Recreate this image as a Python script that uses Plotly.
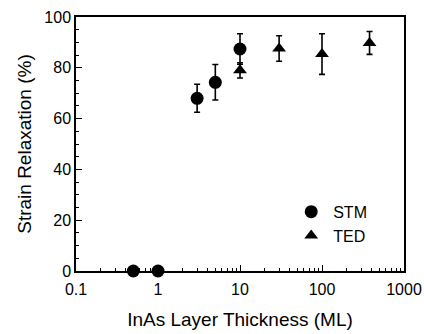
import plotly.graph_objects as go

stm_x = [0.5, 1, 3, 5, 10]
stm_y = [0, 0, 68, 74.3, 87.4]
stm_err = [0, 0, 5.5, 7, 6]

ted_x = [10, 30, 100, 380]
ted_y = [79, 87.6, 85.4, 89.8]
ted_err = [3, 5, 8, 4.5]

x_ticks = [0.1, 1, 10, 100, 1000]
x_tick_labels = ["0.1", "1", "10", "100", "1000"]
x_minor = [m * d for d in [0.1, 1, 10, 100] for m in range(2, 10)]
y_ticks = [0, 20, 40, 60, 80, 100]

font = dict(family="Liberation Sans, Arial, sans-serif", size=16, color="black")

fig = go.Figure()
fig.add_trace(go.Scatter(
    x=stm_x, y=stm_y, mode="markers", name="STM",
    marker=dict(symbol="circle", size=13, color="black"),
    error_y=dict(type="data", array=stm_err, color="black", thickness=1.6, width=3),
    cliponaxis=False,
))
fig.add_trace(go.Scatter(
    x=ted_x, y=ted_y, mode="markers", name="TED",
    marker=dict(symbol="triangle-up", size=12, color="black"),
    error_y=dict(type="data", array=ted_err, color="black", thickness=1.6, width=3),
    cliponaxis=False,
))

fig.update_layout(
    width=424, height=334,
    margin=dict(l=76, r=20, t=17, b=63),
    paper_bgcolor="white", plot_bgcolor="white",
    font=font,
    showlegend=True,
    legend=dict(x=0.65, y=0.3, xanchor="left", yanchor="top",
                bgcolor="rgba(0,0,0,0)", font=dict(size=16),
                itemwidth=34, tracegroupgap=0),
)
fig.update_xaxes(
    type="log", range=[-1, 3], automargin=False,
    tickvals=x_ticks, ticktext=x_tick_labels,
    ticks="inside", ticklen=6, tickwidth=1, tickcolor="black",
    ticklabelstandoff=3,
    minor=dict(ticks="inside", ticklen=3, tickvals=x_minor, tickcolor="black", showgrid=False),
    showline=True, linecolor="black", linewidth=1.5, mirror=True,
    showgrid=False, zeroline=False,
    title=dict(text="InAs Layer Thickness (ML)", standoff=16),
)
fig.update_yaxes(
    range=[0, 100], tickvals=y_ticks, automargin=False,
    ticks="inside", ticklen=6, tickwidth=1, tickcolor="black",
    minor=dict(ticks="inside", ticklen=3, dtick=5, tickcolor="black", showgrid=False),
    showline=True, linecolor="black", linewidth=1.5, mirror=True,
    showgrid=False, zeroline=False,
    title=dict(text="Strain Relaxation (%)", standoff=8),
)

fig.write_html("out.html")
